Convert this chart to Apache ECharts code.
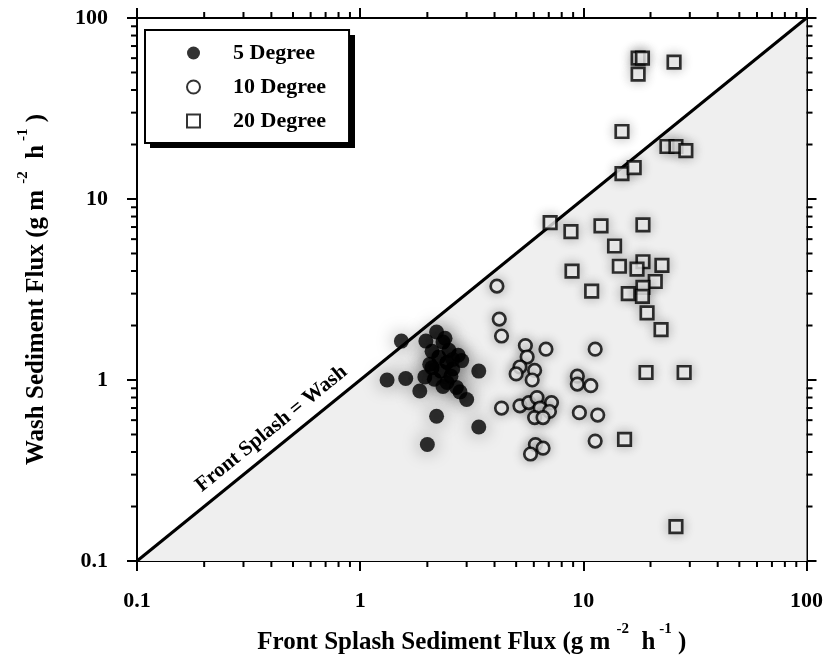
<!DOCTYPE html>
<html>
<head>
<meta charset="utf-8">
<script src="https://cdn.jsdelivr.net/npm/echarts@6/dist/echarts.min.js"></script>
<style>
  html, body { margin: 0; padding: 0; background: #fff; }
  #chart { width: 826px; height: 660px; }
</style>
</head>
<body>
<div id="chart"></div>
<script>
// Front splash vs. wash sediment flux, g m^-2 h^-1, for three slope angles
var fiveDegree = [
  [1.53, 1.64], [1.32, 1.0], [1.6, 1.02], [2.2, 0.63], [2.0, 0.44],
  [3.4, 1.12], [3.4, 0.55], [3.0, 0.78], [2.2, 1.84], [1.97, 1.64],
  [2.35, 1.62], [2.5, 1.46], [2.75, 1.37], [2.1, 1.44], [2.25, 1.34],
  [2.45, 1.25], [2.05, 1.22], [2.3, 1.12], [2.6, 1.15], [1.95, 1.04],
  [2.15, 1.01], [2.45, 0.97], [1.85, 0.87], [2.7, 0.91], [2.8, 0.86],
  [2.1, 1.17], [2.55, 1.05], [2.4, 1.7], [2.85, 1.28], [2.35, 0.92],
  [2.6, 1.3]
];
var tenDegree = [
  [4.1, 3.3], [4.2, 2.17], [4.3, 1.75], [5.5, 1.55], [6.8, 1.48],
  [5.6, 1.34], [5.2, 1.18], [6.05, 1.13], [5.0, 1.08], [5.9, 1.0],
  [4.3, 0.70], [5.2, 0.72], [5.7, 0.75], [6.2, 0.80], [7.2, 0.75],
  [6.4, 0.70], [7.05, 0.67], [6.05, 0.62], [6.6, 0.62], [6.1, 0.44],
  [6.6, 0.42], [5.8, 0.39], [11.3, 1.48], [9.4, 1.05], [9.4, 0.95],
  [10.8, 0.93], [9.6, 0.66], [11.6, 0.64], [11.3, 0.46]
];
var twentyDegree = [
  [17.6, 60], [18.4, 60], [17.6, 49], [25.5, 57], [14.9, 23.6],
  [23.7, 19.5], [26, 19.5], [28.8, 18.5], [14.9, 13.8], [16.9, 14.9],
  [7.1, 7.4], [8.8, 6.6], [12.0, 7.1], [18.5, 7.2], [13.8, 5.5],
  [8.9, 4.0], [14.5, 4.25], [18.5, 4.5], [17.4, 4.1], [22.5, 4.3],
  [10.9, 3.1], [15.9, 3.0], [21.0, 3.5], [18.5, 3.25], [18.4, 2.9],
  [19.3, 2.35], [22.3, 1.9], [19.1, 1.1], [28.3, 1.1], [15.3, 0.47],
  [26, 0.155]
];
var seriesNames = ['5 Degree', '10 Degree', '20 Degree'];
var axisRange = [0.1, 100];
var equalityLine = [[0.1, 0.1], [100, 100]];
var equalityLabel = 'Front Splash = Wash';
var equalityLabelAt = 0.45;
var minorTicks = [0.2, 0.3, 0.4, 0.5, 0.6, 0.7, 0.8, 0.9,
                  2, 3, 4, 5, 6, 7, 8, 9,
                  20, 30, 40, 50, 60, 70, 80, 90];

var SERIF = '"Liberation Serif", "DejaVu Serif", serif';
var chart = echarts.init(document.getElementById('chart'), null, { renderer: 'canvas' });

var titleRich = {
  t: { fontFamily: SERIF, fontWeight: 'bold', fontSize: 25, color: '#000', lineHeight: 33, verticalAlign: 'bottom' },
  s: { fontFamily: SERIF, fontWeight: 'bold', fontSize: 15, color: '#000', lineHeight: 15, verticalAlign: 'top' }
};

function logAxis(position, showLabel, name) {
  return {
    type: 'log',
    logBase: 10,
    min: axisRange[0],
    max: axisRange[1],
    position: position,
    name: name || '',
    nameLocation: 'middle',
    nameTextStyle: { rich: titleRich },
    splitLine: { show: false },
    axisLine: { show: true, onZero: false, lineStyle: { color: '#000', width: 2 } },
    axisTick: { show: true, inside: false, length: 10, lineStyle: { color: '#000', width: 2 } },
    minorTick: { show: false },
    axisLabel: {
      show: showLabel,
      margin: 29,
      fontFamily: SERIF,
      fontWeight: 'bold',
      fontSize: 22,
      color: '#000'
    }
  };
}

var xName = '{t|Front Splash Sediment Flux (g m }{s|-2}{t|  h}{s| -1}{t| )}';
var yName = '{t|Wash Sediment Flux (g m }{s|-2}{t|  h}{s| -1}{t| )}';

var xMain = logAxis('bottom', true, xName);
xMain.nameGap = 61;
var yMain = logAxis('left', true, yName);
yMain.nameGap = 88;

function pointShadow(blur, alpha) {
  return { shadowBlur: blur, shadowColor: 'rgba(0,0,0,' + alpha + ')' };
}

var option = {
  animation: false,
  backgroundColor: '#fff',
  grid: { left: 137, right: 17, top: 18, bottom: 98, containLabel: false },
  xAxis: [xMain, logAxis('top', false)],
  yAxis: [yMain, logAxis('right', false)],
  // Drop shadow behind the legend frame
  graphic: [{
    id: 'legendShadow',
    type: 'rect',
    left: 150,
    top: 35,
    shape: { width: 205, height: 113 },
    style: { fill: '#000' },
    z: 3,
    silent: true
  }],
  legend: {
    data: seriesNames,
    orient: 'vertical',
    left: 145,
    top: 30,
    z: 6,
    padding: [12, 23, 11, 41],
    itemWidth: 13,
    itemHeight: 13,
    itemGap: 12,
    backgroundColor: '#fff',
    borderColor: '#000',
    borderWidth: 2,
    itemStyle: { shadowBlur: 0, shadowColor: 'transparent' },
    textStyle: {
      fontFamily: SERIF, fontWeight: 'bold', fontSize: 22, color: '#000',
      lineHeight: 22, padding: [0, 0, 0, 28]
    },
    selectedMode: false
  },
  series: [
    {
      name: 'equality',
      type: 'line',
      data: equalityLine,
      symbol: 'none',
      silent: true,
      z: 1,
      lineStyle: { color: '#000', width: 3 },
      areaStyle: { color: '#efefef', opacity: 1, origin: 'start' }
    },
    {
      name: 'minor ticks',
      type: 'custom',
      silent: true,
      clip: false,
      z: 5,
      data: minorTicks.map(function (v) { return [v, v]; }),
      renderItem: function (params, api) {
        var v = api.value(0);
        var b = api.coord([v, axisRange[0]]);
        var t = api.coord([v, axisRange[1]]);
        var l = api.coord([axisRange[0], v]);
        var r = api.coord([axisRange[1], v]);
        var len = 6;
        var st = { stroke: '#000', lineWidth: 2 };
        return {
          type: 'group',
          children: [
            { type: 'line', shape: { x1: b[0], y1: b[1], x2: b[0], y2: b[1] + len }, style: st },
            { type: 'line', shape: { x1: t[0], y1: t[1], x2: t[0], y2: t[1] - len }, style: st },
            { type: 'line', shape: { x1: l[0], y1: l[1], x2: l[0] - len, y2: l[1] }, style: st },
            { type: 'line', shape: { x1: r[0], y1: r[1], x2: r[0] + len, y2: r[1] }, style: st }
          ]
        };
      }
    },
    {
      name: seriesNames[0],
      type: 'scatter',
      data: fiveDegree,
      symbol: 'circle',
      symbolSize: 15,
      z: 3,
      itemStyle: Object.assign({ color: '#000', borderColor: '#000', borderWidth: 0 }, pointShadow(18, 0.5))
    },
    {
      name: seriesNames[1],
      type: 'scatter',
      data: tenDegree,
      symbol: 'circle',
      symbolSize: 12.5,
      z: 3,
      itemStyle: Object.assign({ color: '#fff', borderColor: '#000', borderWidth: 2.7 }, pointShadow(12, 0.35))
    },
    {
      name: seriesNames[2],
      type: 'scatter',
      data: twentyDegree,
      symbol: 'rect',
      symbolSize: 12.5,
      z: 3,
      itemStyle: Object.assign({ color: '#fff', borderColor: '#000', borderWidth: 2.7 }, pointShadow(12, 0.3))
    }
  ]
};

chart.setOption(option);

// Rotated caption along the 1:1 line, placed through the axis scales
var finder = { xAxisIndex: 0, yAxisIndex: 0 };
var p0 = chart.convertToPixel(finder, equalityLine[0]);
var p1 = chart.convertToPixel(finder, equalityLine[1]);
var ang = Math.atan2(p0[1] - p1[1], p1[0] - p0[0]);
var c = chart.convertToPixel(finder, [equalityLabelAt, equalityLabelAt]);
var off = 18;
chart.setOption({
  graphic: [{
    id: 'equalityCaption',
    type: 'text',
    x: c[0] - Math.sin(ang) * off,
    y: c[1] - Math.cos(ang) * off,
    rotation: ang,
    z: 10,
    silent: true,
    style: {
      text: equalityLabel,
      align: 'center',
      verticalAlign: 'middle',
      font: 'bold 21px ' + SERIF,
      fill: '#000'
    }
  }]
});
</script>
</body>
</html>
